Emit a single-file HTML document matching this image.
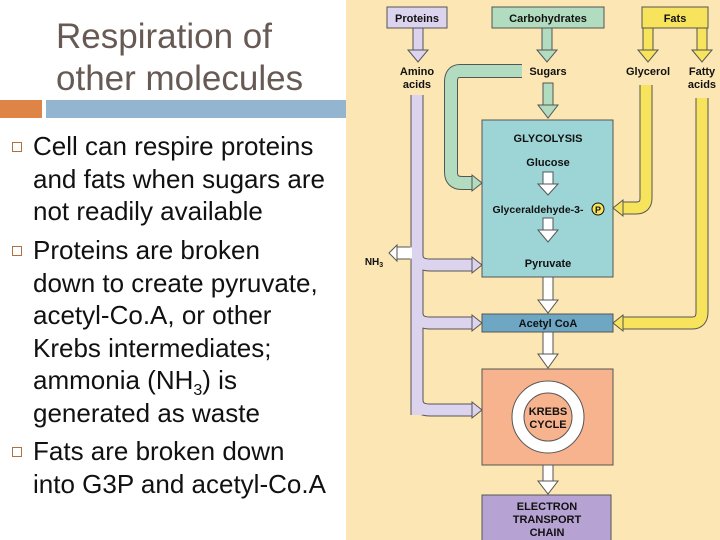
<!DOCTYPE html>
<html><head><meta charset="utf-8"><style>
body{margin:0;width:720px;height:540px;position:relative;overflow:hidden;background:#fff;font-family:"Liberation Sans",sans-serif}
.t{position:absolute;left:56px;font-size:35px;color:#675a55;line-height:42px;top:16px}
.bar1{position:absolute;left:0;top:100px;width:42px;height:18px;background:#dd8446}
.bar2{position:absolute;left:46px;top:100px;width:300px;height:18px;background:#93b5d0}
.b{position:absolute;left:33px;font-size:26px;line-height:32.5px;color:#111;width:320px;white-space:nowrap}
.b sub{font-size:16px;line-height:0}
.sq{position:absolute;left:12px;width:8px;height:8px;border:1.5px solid #b0703f}
svg{position:absolute;left:346px;top:0}
svg text{font-family:"Liberation Sans",sans-serif;font-weight:bold;fill:#111}
</style></head><body>
<div class="t">Respiration of<br>other molecules</div>
<div class="bar1"></div><div class="bar2"></div>
<div class="sq" style="top:142px"></div>
<div class="sq" style="top:246px"></div>
<div class="sq" style="top:447px"></div>
<div class="b" style="top:130px">Cell can respire proteins<br>and fats when sugars are<br>not readily available</div>
<div class="b" style="top:234px">Proteins are broken<br>down to create pyruvate,<br>acetyl-Co.A, or other<br>Krebs intermediates;<br>ammonia (NH<sub>3</sub>) is<br>generated as waste</div>
<div class="b" style="top:435px">Fats are broken down<br>into G3P and acetyl-Co.A</div>
<svg width="374" height="540" viewBox="346 0 374 540">
<rect x="346" y="0" width="374" height="540" fill="#fbe6b4"/>
<g fill="none" stroke-linejoin="round">
<path d="M417 95 V415" stroke="#555" stroke-width="13"/>
<path d="M417 255 Q417 265 430 265 H472 M417 313 Q417 323 430 323 H472 M417 400 Q417 410 430 410 H472" stroke="#555" stroke-width="13"/>
<path d="M417 95 V415" stroke="#dcd3ef" stroke-width="11"/>
<path d="M417 255 Q417 265 430 265 H472 M417 313 Q417 323 430 323 H472 M417 400 Q417 410 430 410 H472" stroke="#dcd3ef" stroke-width="11"/>
<path d="M522 71 H460 Q451 71 451 82 V172 Q451 183 462 183 H472" stroke="#555" stroke-width="14"/>
<path d="M522 71 H460 Q451 71 451 82 V172 Q451 183 462 183 H472" stroke="#b2dcc0" stroke-width="12"/>
<path d="M646 85 V198 Q646 208 636 208 H623" stroke="#555" stroke-width="13"/>
<path d="M646 85 V198 Q646 208 636 208 H623" stroke="#f8e45c" stroke-width="11"/>
<path d="M702 98 V312 Q702 323 692 323 H623" stroke="#555" stroke-width="13"/>
<path d="M702 98 V312 Q702 323 692 323 H623" stroke="#f8e45c" stroke-width="11"/>
<path d="M410 253 H395" stroke="#555" stroke-width="13"/><path d="M412 253 H395" stroke="#fff" stroke-width="11"/>
</g>
<g stroke="#555" stroke-width="1">
<polygon points="472,257 482,265 472,273" fill="#dcd3ef"/>
<polygon points="472,315 482,323 472,331" fill="#dcd3ef"/>
<polygon points="472,402 482,410 472,418" fill="#dcd3ef"/>
<polygon points="472,175 482,183 472,191" fill="#b2dcc0"/>
<polygon points="623,200 613,208 623,216" fill="#f8e45c"/>
<polygon points="623,315 613,323 623,331" fill="#f8e45c"/>
<polygon points="397,245 389,253 397,261" fill="#fff"/>
<rect x="413" y="28" width="10" height="25" fill="#dcd3ef"/><polygon points="408,50 428,50 418,62" fill="#dcd3ef"/>
<rect x="542" y="28" width="10" height="25" fill="#b2dcc0"/><polygon points="537,50 557,50 547,62" fill="#b2dcc0"/>
<rect x="543" y="83" width="10" height="25" fill="#b2dcc0"/><polygon points="538,105 558,105 548,118" fill="#b2dcc0"/>
<rect x="643" y="28" width="10" height="25" fill="#f8e45c"/><polygon points="638,50 658,50 648,62" fill="#f8e45c"/>
<rect x="697" y="28" width="10" height="25" fill="#f8e45c"/><polygon points="692,50 712,50 702,62" fill="#f8e45c"/>
<rect x="642" y="7" width="66" height="21" fill="#f8e45c"/>
<rect x="387" y="7" width="60" height="21" fill="#dcd3ef"/>
<rect x="492" y="7" width="112" height="21" fill="#b2dcc0"/>
<rect x="482" y="120" width="131" height="157" fill="#9dd5d6"/>
<rect x="482" y="314" width="131" height="18" fill="#6ea7c4"/>
<rect x="482" y="369" width="131" height="96" fill="#f7b38e"/>
<rect x="482" y="495" width="129" height="50" fill="#b6a3d4"/>
<g fill="#fff">
<rect x="543" y="172" width="10" height="14"/><polygon points="538,184 558,184 548,195"/>
<rect x="543" y="218" width="10" height="14"/><polygon points="538,230 558,230 548,242"/>
<rect x="543" y="277" width="10" height="25"/><polygon points="538,300 558,300 548,313"/>
<rect x="543" y="332" width="10" height="24"/><polygon points="538,354 558,354 548,368"/>
<rect x="543" y="465" width="10" height="18"/><polygon points="538,481 558,481 548,494"/>
</g>
</g>
<circle cx="548" cy="417" r="30" fill="none" stroke="#555" stroke-width="13"/>
<circle cx="548" cy="417" r="30" fill="none" stroke="#fff" stroke-width="11"/>
<text x="417" y="22" font-size="11" text-anchor="middle">Proteins</text>
<text x="548" y="22" font-size="11" text-anchor="middle">Carbohydrates</text>
<text x="675" y="22" font-size="11" text-anchor="middle">Fats</text>
<text x="417" y="75" font-size="11" text-anchor="middle">Amino</text>
<text x="417" y="88" font-size="11" text-anchor="middle">acids</text>
<text x="548" y="75" font-size="11" text-anchor="middle">Sugars</text>
<text x="648" y="75" font-size="11" text-anchor="middle">Glycerol</text>
<text x="702" y="75" font-size="11" text-anchor="middle">Fatty</text>
<text x="702" y="88" font-size="11" text-anchor="middle">acids</text>
<text x="548" y="142" font-size="11" text-anchor="middle">GLYCOLYSIS</text>
<text x="548" y="166" font-size="11" text-anchor="middle">Glucose</text>
<text x="538" y="213" font-size="10.5" text-anchor="middle">Glyceraldehyde-3-</text>
<circle cx="598" cy="209" r="6" fill="#f8e45c" stroke="#111"/><text x="598" y="213" font-size="9" text-anchor="middle">P</text>
<text x="548" y="267" font-size="11" text-anchor="middle">Pyruvate</text>
<text x="374" y="265" font-size="10" text-anchor="middle">NH<tspan font-size="7" dy="2">3</tspan></text>
<text x="548" y="327" font-size="11" text-anchor="middle">Acetyl CoA</text>
<text x="548" y="415" font-size="11" text-anchor="middle">KREBS</text>
<text x="548" y="428" font-size="11" text-anchor="middle">CYCLE</text>
<text x="547" y="510" font-size="11" text-anchor="middle">ELECTRON</text>
<text x="547" y="523" font-size="11" text-anchor="middle">TRANSPORT</text>
<text x="547" y="536" font-size="11" text-anchor="middle">CHAIN</text>
</svg>
</body></html>
